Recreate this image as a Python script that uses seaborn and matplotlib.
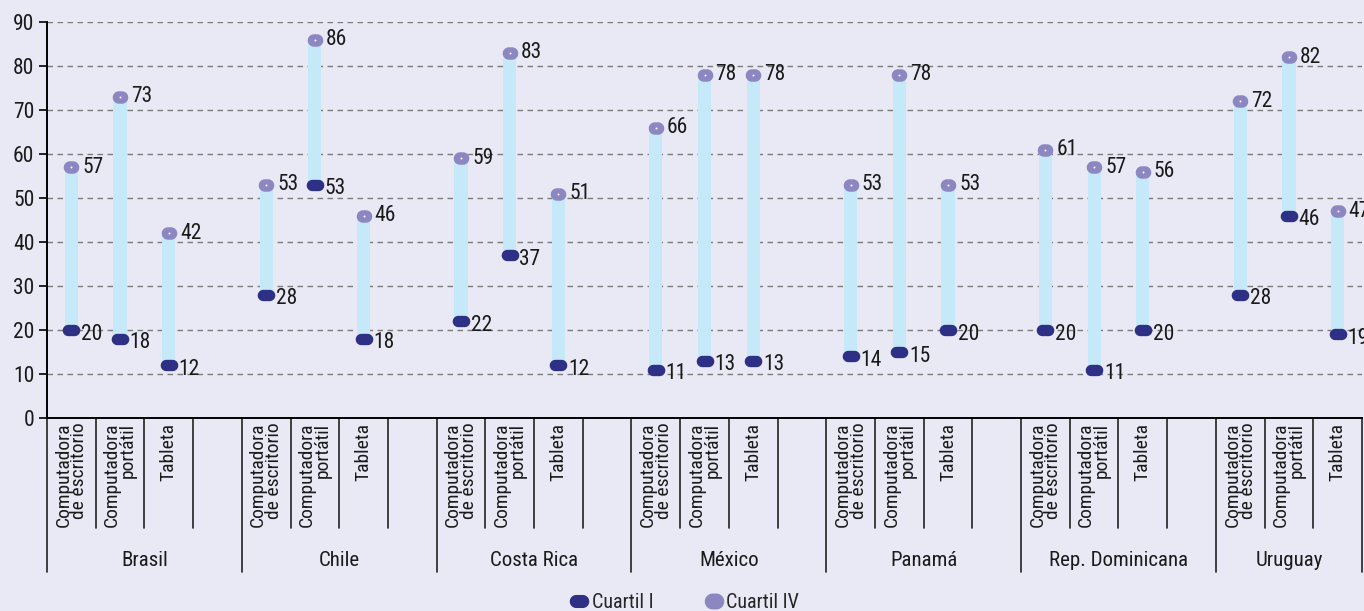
import numpy as np
import pandas as pd
import matplotlib
matplotlib.use("Agg")
import matplotlib.pyplot as plt
from matplotlib import font_manager as fm
from matplotlib.path import Path
from matplotlib.lines import Line2D
from matplotlib.transforms import blended_transform_factory
import seaborn as sns

# Data
countries = ["Brasil", "Chile", "Costa Rica", "México", "Panamá", "Rep. Dominicana", "Uruguay"]
devices = ["Computadora\nde escritorio", "Computadora\nportátil", "Tableta"]
cuartil_1 = [20, 18, 12,   28, 53, 18,   22, 37, 12,   11, 13, 13,
             14, 15, 20,   20, 11, 20,   28, 46, 19]
cuartil_4 = [57, 73, 42,   53, 86, 46,   59, 83, 51,   66, 78, 78,
             53, 78, 53,   61, 57, 56,   72, 82, 47]
y_ticks = [0, 10, 20, 30, 40, 50, 60, 70, 80, 90]

# colours
BG = "#e8e9f5"
DARK = "#2e3086"
LIGHT = "#8c86c1"
SPAN = "#c6e9f9"

sns.set_theme(style="white")

# look for a condensed face installed on the machine
narrow = {"condensed", "semi-condensed", "extra-condensed", "ultra-condensed"}
found = None
for pref in ["Roboto Condensed", "Liberation Sans Narrow", "Open Sans Condensed",
             "Roboto", "Noto Sans", "Open Sans", "DejaVu Sans", ""]:
    for f in fm.fontManager.ttflist:
        cond = (str(f.stretch) in narrow or "Condensed" in f.name or "Narrow" in f.name)
        if cond and f.style == "normal" and pref in f.name and str(f.weight) in ("400", "normal", "regular"):
            found = f
            break
    if found:
        break

if found is not None:
    plt.rcParams["font.family"] = [found.name, "DejaVu Sans"]
    plt.rcParams["font.stretch"] = found.stretch
    scale = 1.0
else:
    plt.rcParams["font.family"] = ["Roboto", "DejaVu Sans"]
    scale = 0.85
FS_VAL = 15.5 * scale
FS_DEV = 14 * scale
FS_CTRY = 15 * scale
FS_LEG = 14.5 * scale
plt.rcParams["axes.facecolor"] = BG
plt.rcParams["figure.facecolor"] = BG

# long table: one row per country/device, slots of 4 per country (last one empty)
rows = []
for c, country in enumerate(countries):
    for d, device in enumerate(devices):
        i = c * 3 + d
        rows.append({"country": country, "device": device, "pos": c * 4 + d,
                     "q1": cuartil_1[i], "q4": cuartil_4[i]})
df = pd.DataFrame(rows)


def pill(ratio):
    # stadium-shaped marker path
    a = ratio * 0.5
    off = a - 0.5
    t1 = np.linspace(-np.pi / 2, np.pi / 2, 20)
    t2 = np.linspace(np.pi / 2, 3 * np.pi / 2, 20)
    right = np.column_stack([off + 0.5 * np.cos(t1), 0.5 * np.sin(t1)])
    left = np.column_stack([-off + 0.5 * np.cos(t2), 0.5 * np.sin(t2)])
    verts = np.vstack([right, left, right[:1]])
    codes = [Path.MOVETO] + [Path.LINETO] * (len(verts) - 2) + [Path.CLOSEPOLY]
    return Path(verts, codes)


pill_dark = pill(1.55)
pill_light = pill(1.25)

fig = plt.figure(figsize=(13.64, 6.11), dpi=100)
ax = fig.add_axes([47 / 1364, 1 - 418 / 611, (1362 - 47) / 1364, (418 - 22) / 611])

# spans between quartiles
ax.bar(df["pos"], df["q4"] - df["q1"], bottom=df["q1"], width=0.27,
       color=SPAN, linewidth=0, zorder=2)

sns.scatterplot(data=df, x="pos", y="q1", marker=pill_dark, s=160, color=DARK,
                linewidth=0, ax=ax, zorder=3, legend=False)
sns.scatterplot(data=df, x="pos", y="q4", marker=pill_light, s=125, color=LIGHT,
                linewidth=0, ax=ax, zorder=3, legend=False)
ax.scatter(df["pos"], df["q4"], s=2, color="white", linewidth=0, zorder=4)

for _, r in df.iterrows():
    ax.annotate(f"{r.q4}", (r.pos, r.q4), xytext=(8, 0), textcoords="offset points",
                ha="left", va="center", fontsize=FS_VAL, color="#1a1a1a", zorder=5)
    ax.annotate(f"{r.q1}", (r.pos, r.q1), xytext=(7, -3), textcoords="offset points",
                ha="left", va="center", fontsize=FS_VAL, color="#1a1a1a", zorder=5)

n_slots = len(countries) * 4 - 1
ax.set_xlim(-0.5, n_slots - 0.5)
ax.set_ylim(0, 90)
ax.set_yticks(y_ticks)
ax.tick_params(axis="y", which="both", left=True, length=6, width=1.2, color="black",
               labelsize=FS_VAL, pad=3, labelcolor="#1a1a1a")
ax.set_xticks([])
ax.set_xlabel("")
ax.set_ylabel("")
ax.yaxis.grid(True, linestyle=(0, (4, 3.2)), color="#7a7a7a", linewidth=1)
ax.set_axisbelow(True)
for side in ["top", "right"]:
    ax.spines[side].set_visible(False)
ax.spines["left"].set_color("black")
ax.spines["left"].set_linewidth(1.4)
ax.spines["bottom"].set_color("black")
ax.spines["bottom"].set_linewidth(1.4)

# hierarchical category axis below the plot
tr = blended_transform_factory(ax.transData, ax.transAxes)
short_y = (418 - 528) / 396
long_y = (418 - 572) / 396
for k in range(n_slots + 1):
    x = k - 0.5
    is_country = (k % 4 == 0) or k == n_slots
    ax.plot([x, x], [0, long_y if is_country else short_y], transform=tr,
            color="#222222", linewidth=1.2, clip_on=False)

for _, r in df.iterrows():
    ax.text(r.pos, -0.012, r.device, transform=tr, rotation=90, ha="center", va="top",
            multialignment="right", fontsize=FS_DEV, linespacing=0.85, color="#1a1a1a")

for c, country in enumerate(countries):
    n = 4 if c < len(countries) - 1 else 3
    center = c * 4 - 0.5 + n / 2
    ax.text(center, (418 - 560) / 396, country, transform=tr, ha="center", va="center",
            fontsize=FS_CTRY, color="#1a1a1a")

handles = [
    Line2D([], [], linestyle="none", marker=pill_dark, markersize=13, color=DARK),
    Line2D([], [], linestyle="none", marker=pill_light, markersize=13, color=LIGHT),
]
fig.legend(handles, ["Cuartil I", "Cuartil IV"], loc="center",
           bbox_to_anchor=(684 / 1364, 1 - 603 / 611), ncol=2, frameon=False,
           fontsize=FS_LEG, handletextpad=0.1, columnspacing=2.5, handlelength=1.0,
           borderaxespad=0)

fig.savefig("out.png", dpi=100, facecolor=BG)
